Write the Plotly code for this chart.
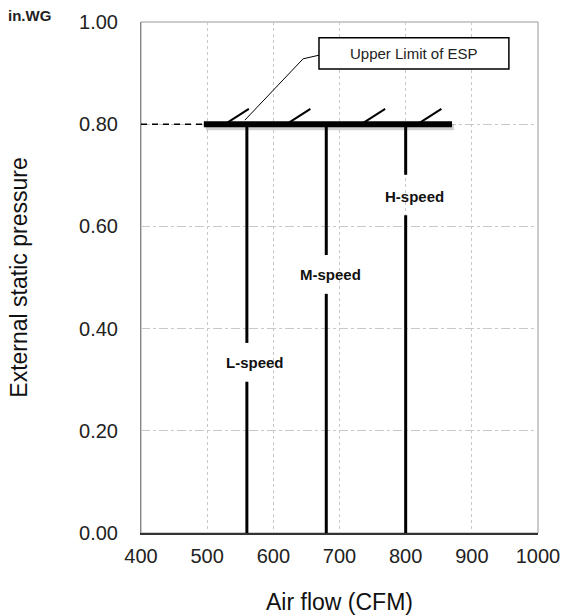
import plotly.graph_objects as go

# ---- data ----
speed_labels = ["L-speed", "M-speed", "H-speed"]
speed_airflow = [560, 680, 800]
gap_low = [0.296, 0.468, 0.622]
gap_high = [0.372, 0.544, 0.701]
label_x = [572, 686, 814]
label_y = [0.333, 0.505, 0.658]

esp_limit = 0.80
limit_start = 495
limit_end = 870
dash_start = 400

hatch_x0 = [527, 620, 733, 818]
hatch_dx = 36
hatch_dy = 0.03

leader_x = [557, 645, 669]
leader_y = [0.808, 0.928, 0.935]
box_x = [669, 956]
box_y = [0.908, 0.969]
box_text = "Upper Limit of ESP"

x_ticks = [400, 500, 600, 700, 800, 900, 1000]
y_ticks = [0.0, 0.2, 0.4, 0.6, 0.8, 1.0]

FONT = "Liberation Sans"
fig = go.Figure()

# shadow of limit line
fig.add_trace(go.Scatter(x=[limit_start + 3, limit_end + 3], y=[esp_limit - 0.006, esp_limit - 0.006],
                         mode="lines", line=dict(color="rgba(0,0,0,0.18)", width=6),
                         hoverinfo="skip", showlegend=False))
# dashed extension
fig.add_trace(go.Scatter(x=[dash_start, limit_start], y=[esp_limit, esp_limit], mode="lines",
                         line=dict(color="black", width=1.5, dash="6px,5px"), showlegend=False))
# speed lines with gaps
for xv, lo, hi in zip(speed_airflow, gap_low, gap_high):
    fig.add_trace(go.Scatter(x=[xv, xv, None, xv, xv], y=[0, lo, None, hi, esp_limit], mode="lines",
                             line=dict(color="black", width=3), showlegend=False))
# thick limit line
fig.add_trace(go.Scatter(x=[limit_start, limit_end], y=[esp_limit, esp_limit], mode="lines",
                         line=dict(color="black", width=6), showlegend=False))
# hatch marks
hx, hy = [], []
for x0 in hatch_x0:
    hx += [x0, x0 + hatch_dx, None]
    hy += [esp_limit, esp_limit + hatch_dy, None]
fig.add_trace(go.Scatter(x=hx, y=hy, mode="lines", line=dict(color="black", width=2), showlegend=False))
# leader line
fig.add_trace(go.Scatter(x=leader_x, y=leader_y, mode="lines", line=dict(color="black", width=1),
                         showlegend=False))

# box
fig.add_shape(type="rect", x0=box_x[0], x1=box_x[1], y0=box_y[0], y1=box_y[1],
              line=dict(color="black", width=1.5), fillcolor="white", layer="above")
fig.add_annotation(x=(box_x[0] + box_x[1]) / 2, y=(box_y[0] + box_y[1]) / 2, text=box_text,
                   showarrow=False, font=dict(size=15, color="#222", family=FONT))

for t, xv, yv in zip(speed_labels, label_x, label_y):
    fig.add_annotation(x=xv, y=yv, text="<b>" + t + "</b>", showarrow=False,
                       font=dict(size=15, color="#111", family=FONT))

fig.add_annotation(xref="paper", yref="paper", x=-0.28, y=1.012, xanchor="center", yanchor="middle",
                   text="<b>in.WG</b>", showarrow=False,
                   font=dict(size=15, color="#222", family=FONT))

fig.update_layout(
    width=563, height=615,
    margin=dict(l=141, r=25, t=22, b=82, autoexpand=False),
    paper_bgcolor="white", plot_bgcolor="white",
    font=dict(family=FONT, color="#333"),
    showlegend=False,
    xaxis=dict(range=[400, 1000], tickvals=x_ticks, ticktext=[str(v) for v in x_ticks],
               tickfont=dict(size=20, color="#222"), showgrid=True, gridcolor="#c8c8c8",
               griddash="dot", gridwidth=1, zeroline=False, showline=True, linecolor="#333",
               linewidth=2, mirror=False, ticks="", ticklabelstandoff=4, automargin=False,
               title=dict(text="Air flow (CFM)", font=dict(size=23, color="#111"), standoff=28)),
    yaxis=dict(range=[0, 1.0], tickvals=y_ticks, ticktext=["%.2f" % v for v in y_ticks],
               tickfont=dict(size=20, color="#222"), showgrid=True, gridcolor="#c8c8c8",
               griddash="dashdot", gridwidth=1, zeroline=False, showline=True, linecolor="#888",
               linewidth=1, ticks="", ticklabelstandoff=18, automargin=False,
               title=dict(text="External static pressure", font=dict(size=23, color="#111"), standoff=45)),
)
# frame top/right
fig.add_shape(type="rect", xref="paper", yref="paper", x0=0, x1=1, y0=0, y1=1,
              line=dict(color="#999", width=1), layer="below")

fig.write_html("out.html", config={"displayModeBar": False},
               post_script="document.body.style.margin='0';document.body.style.overflow='hidden';")
